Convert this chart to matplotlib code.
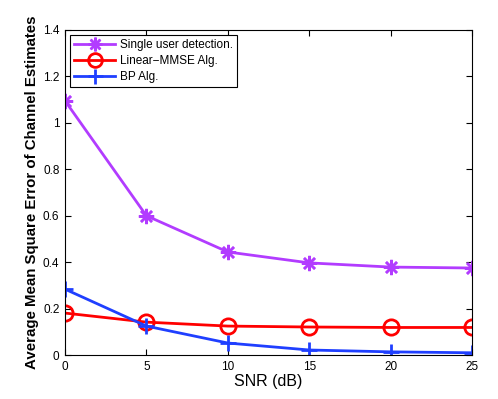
import numpy as np
import matplotlib.pyplot as plt

plt.rcParams['font.family'] = ['Liberation Sans', 'DejaVu Sans']

snr = [0, 5, 10, 15, 20, 25]
single_user = [1.095, 0.60, 0.444, 0.397, 0.379, 0.375]
linear_mmse = [0.181, 0.142, 0.125, 0.121, 0.119, 0.119]
bp_alg = [0.284, 0.125, 0.052, 0.022, 0.014, 0.010]

fig = plt.figure(figsize=(4.98, 3.99), dpi=100)
ax = fig.add_axes([0.1305, 0.110, 0.8175, 0.815])

ax.plot(snr, single_user, color='#b23cff', lw=2, marker=(8, 2, 0), ms=11, mew=1.8,
        label='Single user detection.')
ax.plot(snr, linear_mmse, color='#ff0000', lw=2, marker='o', ms=11, mfc='none', mew=2,
        label='Linear\u2212MMSE Alg.')
ax.plot(snr, bp_alg, color='#1f3fff', lw=2, marker='+', ms=12, mew=2,
        label='BP Alg.')

ax.set_xlim(0, 25)
ax.set_ylim(0, 1.4)
ax.set_xticks(snr)
ax.set_yticks(np.arange(0, 1.41, 0.2))
ax.set_yticklabels(['0', '0.2', '0.4', '0.6', '0.8', '1', '1.2', '1.4'])
ax.tick_params(direction='in', labelsize=8.5, top=True, right=True, length=4, pad=4)
for s in ax.spines.values():
    s.set_linewidth(0.8)

ax.set_xlabel('SNR (dB)', fontsize=11.5, labelpad=1)
ax.set_ylabel('Average Mean Square Error of Channel Estimates', fontsize=10.8,
              fontweight='bold', labelpad=3)

leg = ax.legend(loc='upper left', fontsize=8.5, fancybox=False, edgecolor='black',
                framealpha=1, borderaxespad=0.4, handlelength=3.5, labelspacing=0.35,
                borderpad=0.35, handletextpad=0.4, markerscale=0.9)
leg.get_frame().set_linewidth(0.8)

plt.savefig('out.png', dpi=100)
